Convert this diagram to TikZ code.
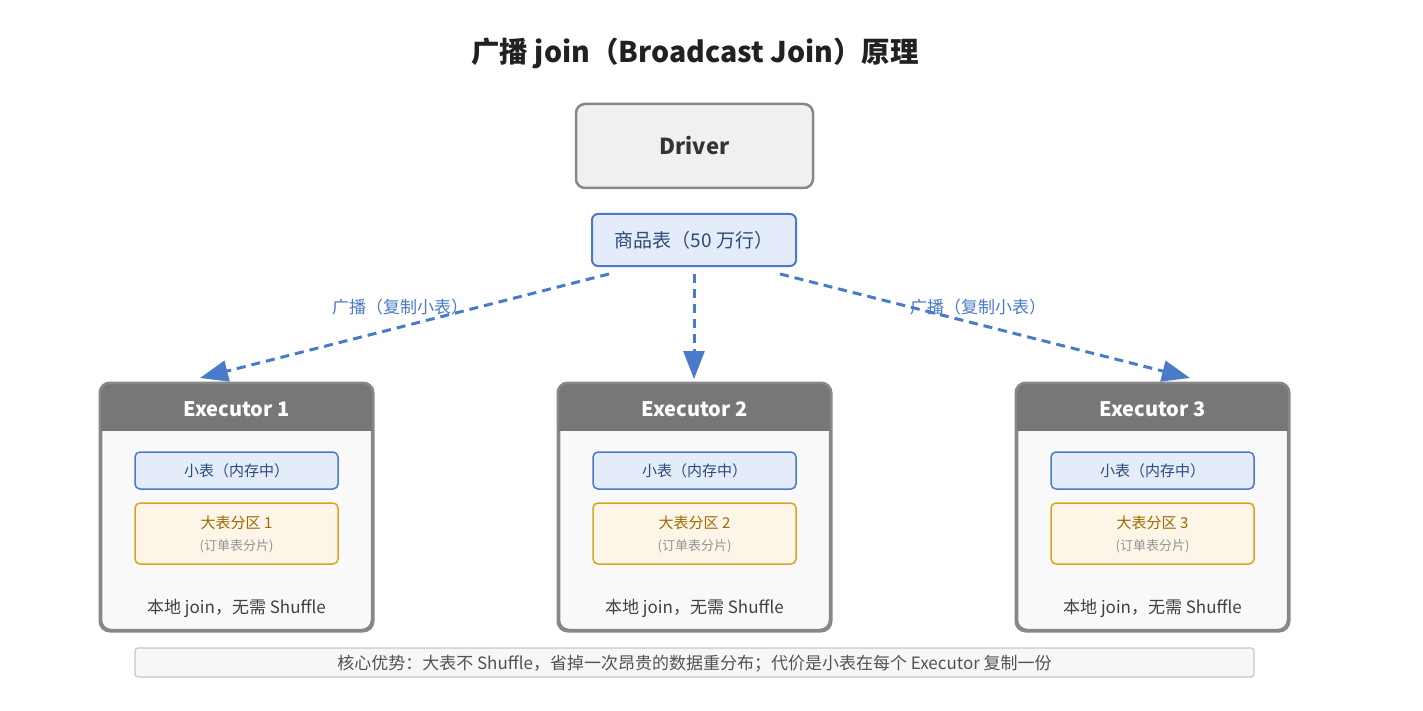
\documentclass[tikz,border=0pt]{standalone}
\usepackage{fontspec}
\setmainfont{Noto Sans CJK SC}
\usetikzlibrary{arrows.meta,calc}
\definecolor{bluel}{HTML}{4A7BC8}
\definecolor{bluef}{HTML}{E4ECF9}
\definecolor{bluet}{HTML}{2C4A7A}
\definecolor{goldl}{HTML}{D9A520}
\definecolor{goldf}{HTML}{FDF5E7}
\definecolor{goldt}{HTML}{9A6A00}
\definecolor{grayl}{HTML}{888888}
\definecolor{hdr}{HTML}{777777}
\tikzset{
  drvbox/.style={draw=grayl,line width=2.5pt,fill=black!6,rounded corners=9pt,minimum width=237pt,minimum height=84pt,inner sep=0pt},
  bluebox/.style={draw=bluel,line width=2pt,fill=bluef,rounded corners=6pt,inner sep=0pt},
  smallbox/.style={bluebox,line width=1.5pt,minimum width=203pt,minimum height=37pt,rounded corners=5pt},
  bigbox/.style={draw=goldl,line width=1.5pt,fill=goldf,rounded corners=5pt,minimum width=203pt,minimum height=61pt,inner sep=0pt},
  exbox/.style={draw=grayl,line width=2.5pt,fill=black!2.5,rounded corners=10pt,minimum width=271pt,minimum height=246pt,inner sep=0pt},
  bcast/.style={draw=bluel,line width=3pt,dash pattern=on 9pt off 6pt,-{Triangle[length=28pt,width=21pt]}},
  lbl/.style={text=bluel,font=\fontsize{17}{20}\selectfont,inner sep=0pt},
}
\begin{document}
\begin{tikzpicture}[x=1pt,y=-1pt]
\useasboundingbox[fill=white] (0,0) rectangle (1423,711);
\node[font=\fontsize{28.5}{32}\selectfont\bfseries,text=black!87] (title) at (695,53) {广播 join（Broadcast Join）原理};
\node[drvbox,font=\fontsize{22}{26}\selectfont\bfseries,text=black!80] (drv) at (694.5,146) {Driver};
\node[bluebox,minimum width=204pt,minimum height=52pt,font=\fontsize{19}{22}\selectfont,text=bluet] (goods) at (694,240) {商品表（50 万行）};
\coordinate (s1) at (609,274);
\coordinate (s2) at (694,274);
\coordinate (s3) at (780,274);
\coordinate (t1) at (200,378);
\coordinate (t2) at (694,379);
\coordinate (t3) at (1190,378);
\draw[bcast] (s1) -- (t1);
\draw[bcast] (s2) -- (t2);
\draw[bcast] (s3) -- (t3);
\node[lbl] (l1) at (400,307) {广播（复制小表）};
\node[lbl] (l3) at (978,307) {广播（复制小表）};
\foreach \i/\cx in {1/236.5,2/694.5,3/1152.5}{
  \node[exbox] (e\i) at (\cx,507) {};
  \begin{scope}
    \clip[rounded corners=10pt] (e\i.south west) rectangle (e\i.north east);
    \fill[hdr] (e\i.north west) rectangle ($(e\i.north east)+(0,48)$);
  \end{scope}
  \draw[grayl,line width=2.5pt,rounded corners=10pt] (e\i.south west) rectangle (e\i.north east);
  \node[text=white,font=\fontsize{20}{24}\selectfont\bfseries] (h\i) at (\cx,409) {Executor \i};
  \node[smallbox,font=\fontsize{15}{18}\selectfont,text=bluet] (sm\i) at (\cx,470.5) {小表（内存中）};
  \node[bigbox] (bg\i) at (\cx,533.5) {};
  \node[text=goldt,font=\fontsize{15}{18}\selectfont] (bt\i) at (\cx,523) {大表分区 \i};
  \node[text=black!42,font=\fontsize{13}{16}\selectfont] (bs\i) at (\cx,546) {(订单表分片)};
  \node[text=black!75,font=\fontsize{17}{20}\selectfont] (lj\i) at (\cx,608) {本地 join，无需 Shuffle};
}
\node[draw=black!22,line width=1.2pt,fill=black!3,rounded corners=3pt,minimum width=1119pt,minimum height=29pt,inner sep=0pt] (foot) at (694.5,662.5) {};
\node[text=black!68,font=\fontsize{17}{20}\selectfont] (ft) at (694.5,663.5) {核心优势：大表不 Shuffle，省掉一次昂贵的数据重分布；代价是小表在每个 Executor 复制一份};
\end{tikzpicture}
\end{document}
